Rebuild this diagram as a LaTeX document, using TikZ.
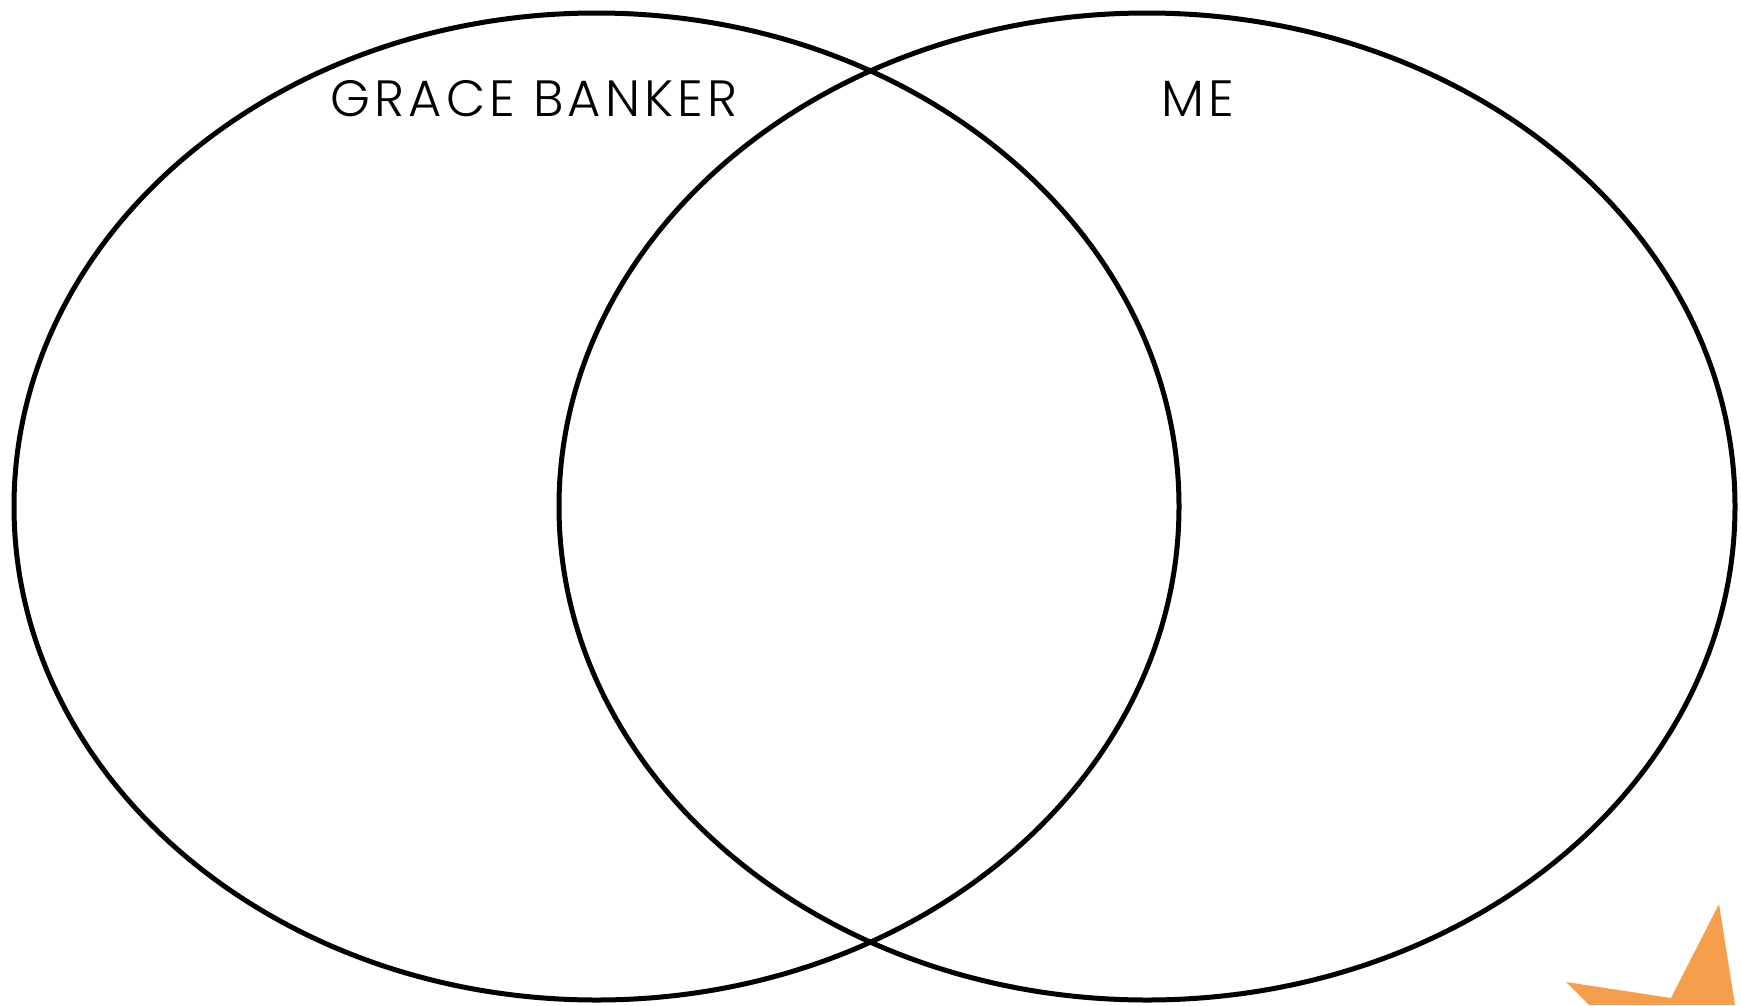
\documentclass[tikz,border=0pt]{standalone}
\usepackage{fontspec}
\setmainfont{Poppins}[UprightFont={* Light}]
\newfontfamily\lblfont{Poppins}[UprightFont={* Light},LetterSpace=8]
\definecolor{orng}{RGB}{245,158,76}
\begin{document}
\begin{tikzpicture}[x=1pt,y=-1pt,
  venn/.style={draw=black,line width=5pt},
  lbl/.style={inner sep=0pt,anchor=center,font=\lblfont\fontsize{51}{60}\selectfont}]
\useasboundingbox (0,0) rectangle (1741,1005);
\draw[venn] (596.5,506.5) ellipse [x radius=582.5, y radius=493.5];
\draw[venn] (1147,506.5) ellipse [x radius=588, y radius=493.5];
\node[lbl] (grace) at (534,99) {GRACE BANKER};
\node[lbl] (me) at (1198,99) {ME};
\fill[orng] (1566,982) -- (1671,998) -- (1719,904) -- (1735,1005) -- (1589,1005) -- cycle;
\end{tikzpicture}
\end{document}
